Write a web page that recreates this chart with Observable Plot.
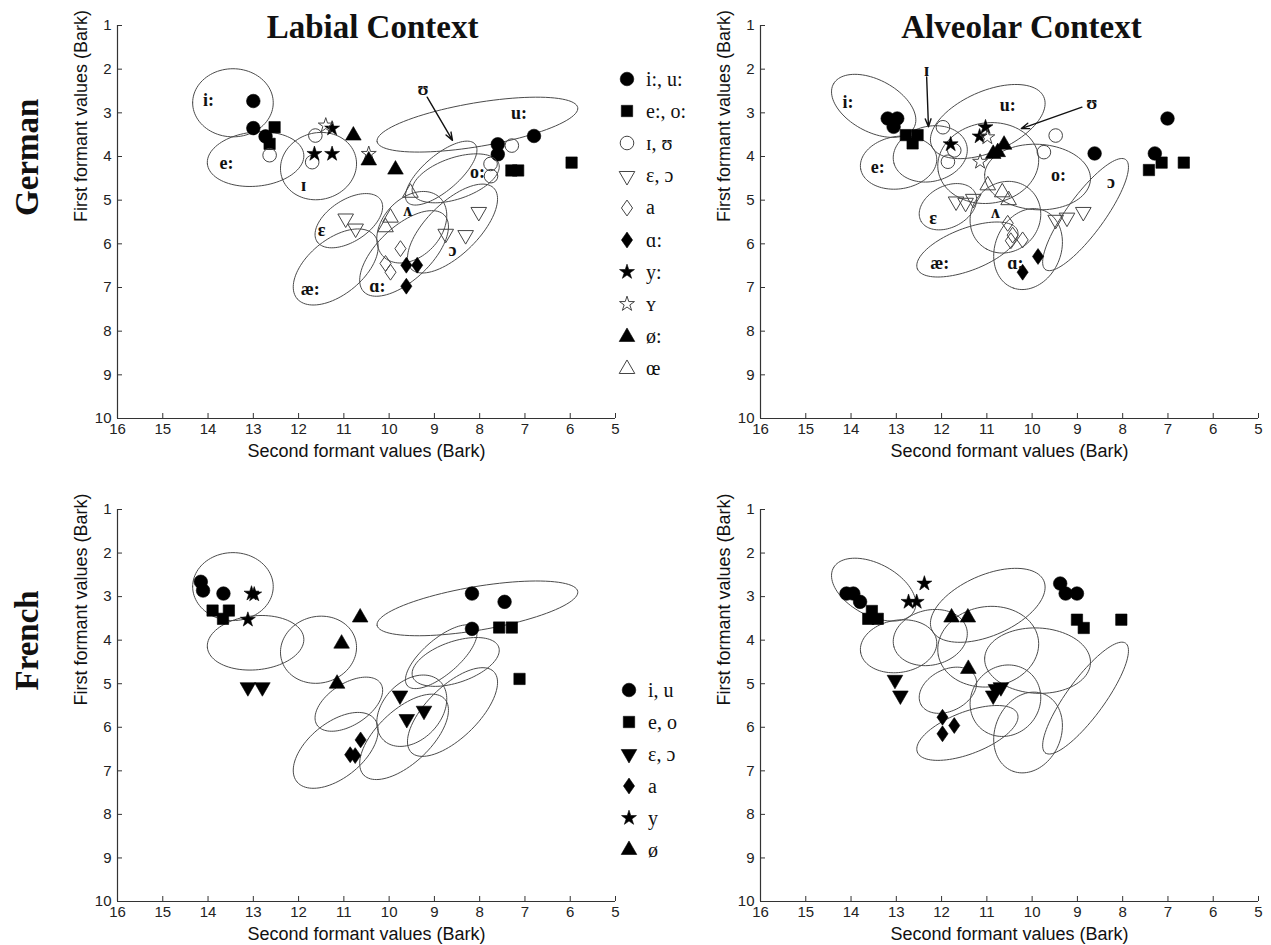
<!DOCTYPE html>
<html>
<head>
<meta charset="utf-8">
<script src="https://cdn.jsdelivr.net/npm/d3@7"></script>
<script src="https://cdn.jsdelivr.net/npm/@observablehq/plot@0.6"></script>
<style>
  html, body { margin: 0; padding: 0; background: #fff; }
  #wrap { position: relative; width: 1271px; height: 945px; overflow: hidden; background: #fff; }
  #wrap svg.plot-panel { position: absolute; background: transparent; }
  .legend-row { position: absolute; height: 24px; display: flex; align-items: center;
    font-family: "Liberation Serif", "DejaVu Serif", serif; font-size: 20px; color: #111; white-space: nowrap; }
  .legend-row svg { display: block; }
</style>
</head>
<body>
<div id="wrap"></div>
<script>
// ---------------- axes ----------------
const xDomain = [16, 5];
const yDomain = [1, 10];
const xTicks = [16, 15, 14, 13, 12, 11, 10, 9, 8, 7, 6, 5];
const yTicks = [1, 2, 3, 4, 5, 6, 7, 8, 9, 10];
const xLabel = "Second formant values (Bark)";
const yLabel = "First formant values (Bark)";
const columnTitles = ["Labial Context", "Alveolar Context"];
const rowTitles = ["German", "French"];

// ---------------- legends ----------------
const germanLegendKeys = ["iu", "eo", "IU", "EO", "a", "A", "y", "Y", "oe", "OE"];
const germanLegendLabels = ["i:, u:", "e:, o:", "ɪ, ʊ", "ɛ, ɔ", "a", "ɑ:", "y:", "ʏ", "ø:", "œ"];
const frenchLegendKeys = ["iu", "eo", "EO", "a", "y", "oe"];
const frenchLegendLabels = ["i, u", "e, o", "ɛ, ɔ", "a", "y", "ø"];

// ---------------- points: [category, F2 (Bark), F1 (Bark)] ----------------
const germanLabialPoints = [
  ["iu", 13.0, 2.73], ["iu", 13.0, 3.35], ["iu", 12.73, 3.54], ["iu", 7.6, 3.72], ["iu", 7.6, 3.95], ["iu", 6.8, 3.53],
  ["eo", 12.53, 3.33], ["eo", 12.64, 3.71], ["eo", 7.3, 4.32], ["eo", 7.15, 4.32], ["eo", 5.97, 4.14],
  ["IU", 12.64, 3.97], ["IU", 11.63, 3.52], ["IU", 11.7, 4.13], ["IU", 7.29, 3.75], ["IU", 7.76, 4.17], ["IU", 7.75, 4.45],
  ["EO", 10.96, 5.42], ["EO", 10.74, 5.65], ["EO", 8.75, 5.77], ["EO", 8.31, 5.8], ["EO", 8.02, 5.27],
  ["a", 9.75, 6.11], ["a", 10.08, 6.45], ["a", 9.97, 6.65],
  ["A", 9.62, 6.49], ["A", 9.38, 6.49], ["A", 9.62, 6.97],
  ["Y", 11.4, 3.29], ["Y", 10.45, 3.94],
  ["y", 11.26, 3.36], ["y", 11.65, 3.94], ["y", 11.26, 3.94],
  ["oe", 10.79, 3.52], ["oe", 10.45, 4.09], ["oe", 9.86, 4.3],
  ["OE", 9.53, 4.83], ["OE", 9.97, 5.4], ["OE", 10.08, 5.62]
];
const germanAlveolarPoints = [
  ["iu", 13.19, 3.13], ["iu", 12.98, 3.13], ["iu", 13.06, 3.32], ["iu", 8.62, 3.93], ["iu", 7.01, 3.13], ["iu", 7.29, 3.93],
  ["eo", 12.79, 3.51], ["eo", 12.53, 3.51], ["eo", 12.64, 3.7], ["eo", 7.42, 4.31], ["eo", 7.14, 4.14], ["eo", 6.65, 4.14],
  ["IU", 11.97, 3.33], ["IU", 11.72, 3.86], ["IU", 11.86, 4.12], ["IU", 9.48, 3.52], ["IU", 9.74, 3.9],
  ["EO", 11.68, 5.03], ["EO", 11.47, 5.06], ["EO", 11.3, 4.97], ["EO", 9.48, 5.45], ["EO", 9.23, 5.4], ["EO", 8.87, 5.27],
  ["a", 10.54, 5.53], ["a", 10.43, 5.8], ["a", 10.47, 5.93], ["a", 10.21, 5.91],
  ["A", 10.21, 6.65], ["A", 9.87, 6.29],
  ["Y", 10.99, 3.56], ["Y", 11.15, 4.12],
  ["y", 11.03, 3.33], ["y", 11.16, 3.54], ["y", 11.8, 3.72],
  ["oe", 10.86, 3.94], ["oe", 10.76, 3.9], ["oe", 10.62, 3.73],
  ["OE", 10.98, 4.66], ["OE", 10.66, 4.82], ["OE", 10.52, 5.0]
];
const frenchLabialPoints = [
  ["iu", 14.16, 2.66], ["iu", 14.11, 2.86], ["iu", 13.66, 2.93], ["iu", 8.17, 2.93], ["iu", 7.45, 3.12], ["iu", 8.17, 3.74],
  ["eo", 13.9, 3.32], ["eo", 13.67, 3.51], ["eo", 13.54, 3.32], ["eo", 7.57, 3.71], ["eo", 7.29, 3.71], ["eo", 7.12, 4.89],
  ["EO", 13.12, 5.08], ["EO", 12.8, 5.08], ["EO", 9.76, 5.27], ["EO", 9.61, 5.81], ["EO", 9.23, 5.62],
  ["a", 10.86, 6.63], ["a", 10.75, 6.65], ["a", 10.63, 6.29],
  ["y", 13.04, 2.93], ["y", 12.98, 2.95], ["y", 13.12, 3.53],
  ["oe", 10.64, 3.48], ["oe", 11.05, 4.08], ["oe", 11.15, 5.0]
];
const frenchAlveolarPoints = [
  ["iu", 14.1, 2.93], ["iu", 13.95, 2.93], ["iu", 13.8, 3.12], ["iu", 9.38, 2.7], ["iu", 9.26, 2.93], ["iu", 9.01, 2.93],
  ["eo", 13.54, 3.33], ["eo", 13.62, 3.51], ["eo", 13.41, 3.51], ["eo", 9.01, 3.53], ["eo", 8.86, 3.72], ["eo", 8.03, 3.53],
  ["EO", 13.03, 4.91], ["EO", 12.91, 5.27], ["EO", 10.86, 5.27], ["EO", 10.69, 5.08], ["EO", 10.8, 5.12],
  ["a", 11.98, 5.77], ["a", 11.98, 6.15], ["a", 11.72, 5.96],
  ["y", 12.38, 2.7], ["y", 12.73, 3.12], ["y", 12.55, 3.12],
  ["oe", 11.78, 3.48], ["oe", 11.42, 3.48], ["oe", 11.41, 4.66]
];

// ---------------- German vowel ellipses: [vowel, F2 centre, F1 centre, semi-axis a, semi-axis b, tilt deg] ----------------
const labialEllipses = [
  ["i:", 13.45, 2.77, 0.89, 0.78, 0],
  ["e:", 12.95, 4.06, 1.07, 0.62, 6],
  ["ɪ", 11.56, 4.22, 0.85, 0.76, 20],
  ["u:", 8.05, 3.27, 2.25, 0.5, 10],
  ["o:", 8.53, 4.5, 1.01, 0.47, 20],
  ["ʊ", 8.85, 4.38, 1.0, 0.4, 42],
  ["ʌ", 9.5, 5.62, 0.92, 0.65, 50],
  ["ɔ", 8.6, 5.65, 1.3, 0.58, 46],
  ["ɑ:", 9.67, 6.22, 1.25, 0.6, 45],
  ["æ:", 11.18, 6.53, 1.12, 0.62, 41],
  ["ɛ", 10.89, 5.47, 0.85, 0.47, 35]
];
const alveolarEllipses = [
  ["i:", 13.5, 2.84, 1.02, 0.59, -30],
  ["e:", 12.95, 4.14, 0.85, 0.6, 10],
  ["ɪ", 12.25, 3.94, 0.83, 0.63, 15],
  ["u:", 10.98, 3.2, 1.36, 0.69, 25],
  ["ʊ", 10.97, 4.15, 1.12, 0.92, 10],
  ["o:", 9.88, 4.47, 1.17, 0.75, -3],
  ["ɔ", 8.82, 5.33, 1.54, 0.42, 55],
  ["ʌ", 10.59, 5.39, 0.84, 0.76, 60],
  ["ɛ", 11.86, 5.15, 0.68, 0.47, 30],
  ["æ:", 11.43, 6.13, 1.19, 0.48, 22],
  ["ɑ:", 10.09, 6.12, 0.95, 0.73, 70]
];

// ---------------- ellipse labels: [text, F2, F1] ----------------
const labialLabels = [
  ["i:", 13.99, 2.72], ["e:", 13.59, 4.15], ["ɪ", 11.89, 4.65], ["u:", 7.13, 3.02], ["o:", 8.05, 4.37],
  ["ʊ", 9.25, 2.47], ["ʌ", 9.59, 5.22], ["ɔ", 8.6, 6.15], ["ɑ:", 10.26, 6.97], ["æ:", 11.74, 7.05], ["ɛ", 11.49, 5.69]
];
const alveolarLabels = [
  ["i:", 14.07, 2.75], ["ɪ", 12.33, 2.02], ["u:", 10.54, 2.83], ["ʊ", 8.68, 2.79], ["e:", 13.41, 4.24],
  ["o:", 9.42, 4.43], ["ɔ", 8.26, 4.58], ["ɛ", 12.19, 5.42], ["ʌ", 10.81, 5.27], ["æ:", 12.04, 6.45], ["ɑ:", 10.37, 6.45]
];
// arrows: [F2 from, F1 from, F2 to, F1 to]
const labialArrows = [[9.16, 2.64, 8.6, 3.63]];
const alveolarArrows = [[12.33, 2.18, 12.29, 3.32], [8.9, 2.87, 10.24, 3.36]];

// ---------------- styles ----------------
const downTriangle = {
  draw(context, size) {
    const y = Math.sqrt(size / (Math.sqrt(3) * 3));
    context.moveTo(0, 2 * y);
    context.lineTo(-Math.sqrt(3) * y, -y);
    context.lineTo(Math.sqrt(3) * y, -y);
    context.closePath();
  }
};
// rhombus a little wider than d3's symbolDiamond (width/height = 0.7)
const wideDiamond = {
  draw(context, size) {
    const h = Math.sqrt(size / (2 * 0.7));
    const w = h * 0.7;
    context.moveTo(0, -h);
    context.lineTo(w, 0);
    context.lineTo(0, h);
    context.lineTo(-w, 0);
    context.closePath();
  }
};
const germanStyles = {
  iu: {symbol: "circle", r: 6.8, filled: true},
  eo: {symbol: "square", r: 6.4, filled: true},
  IU: {symbol: "circle", r: 6.8, filled: false},
  EO: {symbol: downTriangle, r: 5.8, filled: false},
  a: {symbol: wideDiamond, r: 5.3, filled: false},
  A: {symbol: wideDiamond, r: 5.3, filled: true},
  y: {symbol: "star", r: 4.7, filled: true},
  Y: {symbol: "star", r: 4.7, filled: false},
  oe: {symbol: "triangle", r: 5.8, filled: true},
  OE: {symbol: "triangle", r: 5.8, filled: false}
};
const frenchStyles = {
  iu: {symbol: "circle", r: 6.8, filled: true},
  eo: {symbol: "square", r: 6.4, filled: true},
  EO: {symbol: downTriangle, r: 5.8, filled: true},
  a: {symbol: wideDiamond, r: 5.3, filled: true},
  y: {symbol: "star", r: 4.7, filled: true},
  oe: {symbol: "triangle", r: 5.8, filled: true}
};
const d3Symbols = {circle: d3.symbolCircle, square: d3.symbolSquare, star: d3.symbolStar, triangle: d3.symbolTriangle};

function ellipseOutline(list) {
  const out = [];
  for (const [name, cx, cy, a, b, deg] of list) {
    const th = deg * Math.PI / 180;
    for (let k = 0; k <= 96; k++) {
      const t = 2 * Math.PI * k / 96;
      out.push({name,
        x: cx + a * Math.cos(t) * Math.cos(th) - b * Math.sin(t) * Math.sin(th),
        y: cy + a * Math.cos(t) * Math.sin(th) + b * Math.sin(t) * Math.cos(th)});
    }
  }
  return out;
}

const serif = "Liberation Serif, DejaVu Serif, serif";
const sans = "Liberation Sans, Arial, sans-serif";

function panel(cfg) {
  const marks = [];
  // vowel ellipses
  marks.push(Plot.line(ellipseOutline(cfg.ellipses), {x: "x", y: "y", z: "name", stroke: "#4a4a4a", strokeWidth: 1}));
  // axis lines and inward ticks
  marks.push(Plot.ruleX([xDomain[0]], {stroke: "#333", strokeWidth: 1.2}));
  marks.push(Plot.ruleY([yDomain[1]], {stroke: "#333", strokeWidth: 1.2}));
  marks.push(Plot.ruleX(xTicks, {x: d => d, y1: yDomain[1], y2: yDomain[1], insetBottom: 5, stroke: "#333"}));
  marks.push(Plot.ruleY(yTicks, {y: d => d, x1: xDomain[0], x2: xDomain[0], insetLeft: 5, stroke: "#333"}));
  marks.push(Plot.axisX({ticks: xTicks, tickSize: 0, tickPadding: 5, tickFormat: d => d, label: null, fontSize: 15, fill: "#222"}));
  marks.push(Plot.axisY({ticks: yTicks, tickSize: 0, tickPadding: 6, tickFormat: d => d, label: null, fontSize: 15, fill: "#222"}));
  // data points
  for (const key of Object.keys(cfg.styles)) {
    const s = cfg.styles[key];
    const pts = cfg.points.filter(d => d[0] === key);
    if (!pts.length) continue;
    marks.push(Plot.dot(pts, {x: d => d[1], y: d => d[2], symbol: s.symbol, r: s.r,
      fill: s.filled ? "#000" : "none", stroke: s.filled ? "#000" : "#444", strokeWidth: s.filled ? 0.6 : 1}));
  }
  if (cfg.labels) {
    marks.push(Plot.text(cfg.labels, {x: d => d[1], y: d => d[2], text: d => d[0],
      fontFamily: serif, fontWeight: "bold", fontSize: 18, fill: "#111"}));
  }
  if (cfg.arrows) {
    marks.push(Plot.arrow(cfg.arrows, {x1: d => d[0], y1: d => d[1], x2: d => d[2], y2: d => d[3],
      stroke: "#111", strokeWidth: 1.4, headLength: 9, headAngle: 40}));
  }
  // axis titles
  marks.push(Plot.text([xLabel], {frameAnchor: "bottom", lineAnchor: "bottom", dy: 38, fontSize: 18, fontFamily: sans, fill: "#111"}));
  marks.push(Plot.text([yLabel], {frameAnchor: "left", rotate: -90, dx: -36, fontSize: 18, fontFamily: sans, fill: "#111"}));
  if (cfg.title) {
    marks.push(Plot.text([cfg.title], {frameAnchor: "top", lineAnchor: "bottom", dy: 12, dx: cfg.titleDx,
      fontSize: 33, fontWeight: "bold", fontFamily: serif, fill: "#111"}));
  }
  if (cfg.rowTitle) {
    marks.push(Plot.text([cfg.rowTitle], {frameAnchor: "left", rotate: -90, dx: -90, dy: cfg.rowDy,
      fontSize: 33, fontWeight: "bold", fontFamily: serif, fill: "#111"}));
  }
  const svg = Plot.plot({
    width: cfg.width, height: cfg.height,
    marginLeft: cfg.ml, marginRight: cfg.mr, marginTop: cfg.mt, marginBottom: cfg.mb,
    x: {domain: xDomain, label: null},
    y: {domain: yDomain, reverse: true, label: null},
    style: {fontFamily: sans, fontSize: "15px", background: "transparent", overflow: "visible"},
    marks
  });
  svg.classList.add("plot-panel");
  svg.style.left = cfg.left + "px";
  svg.style.top = cfg.top + "px";
  return svg;
}

const wrap = document.getElementById("wrap");
wrap.appendChild(panel({left: 0, top: 0, width: 640, height: 470, ml: 117, mr: 25, mt: 25, mb: 52,
  ellipses: labialEllipses, labels: labialLabels, arrows: labialArrows, points: germanLabialPoints, styles: germanStyles,
  title: columnTitles[0], titleDx: 6, rowTitle: rowTitles[0], rowDy: -6}));
wrap.appendChild(panel({left: 700, top: 0, width: 571, height: 470, ml: 60, mr: 13, mt: 25, mb: 52,
  ellipses: alveolarEllipses, labels: alveolarLabels, arrows: alveolarArrows, points: germanAlveolarPoints, styles: germanStyles,
  title: columnTitles[1], titleDx: 12}));
wrap.appendChild(panel({left: 0, top: 480, width: 640, height: 465, ml: 117, mr: 25, mt: 29, mb: 44,
  ellipses: labialEllipses, points: frenchLabialPoints, styles: frenchStyles, rowTitle: rowTitles[1], rowDy: -15}));
wrap.appendChild(panel({left: 700, top: 480, width: 571, height: 465, ml: 60, mr: 13, mt: 29, mb: 44,
  ellipses: alveolarEllipses, points: frenchAlveolarPoints, styles: frenchStyles}));

// legends (HTML, symbols drawn with d3.symbol)
function legend(keys, labels, styles, x, y0, step) {
  keys.forEach((key, i) => {
    const s = styles[key];
    const row = document.createElement("div");
    row.className = "legend-row";
    row.style.left = (x - 11) + "px";
    row.style.top = (y0 + i * step - 12) + "px";
    const type = typeof s.symbol === "string" ? d3Symbols[s.symbol] : s.symbol;
    const path = d3.symbol(type, Math.PI * s.r * s.r)();
    row.innerHTML = `<svg width="22" height="24" viewBox="-11 -12 22 24"><path d="${path}" fill="${s.filled ? "#000" : "none"}" stroke="${s.filled ? "#000" : "#444"}" stroke-width="${s.filled ? 0.6 : 1}"/></svg><span style="margin-left:8px">${labels[i]}</span>`;
    wrap.appendChild(row);
  });
}
legend(germanLegendKeys, germanLegendLabels, germanStyles, 627, 79, 32.2);
legend(frenchLegendKeys, frenchLegendLabels, frenchStyles, 629, 690, 32);
</script>
</body>
</html>
